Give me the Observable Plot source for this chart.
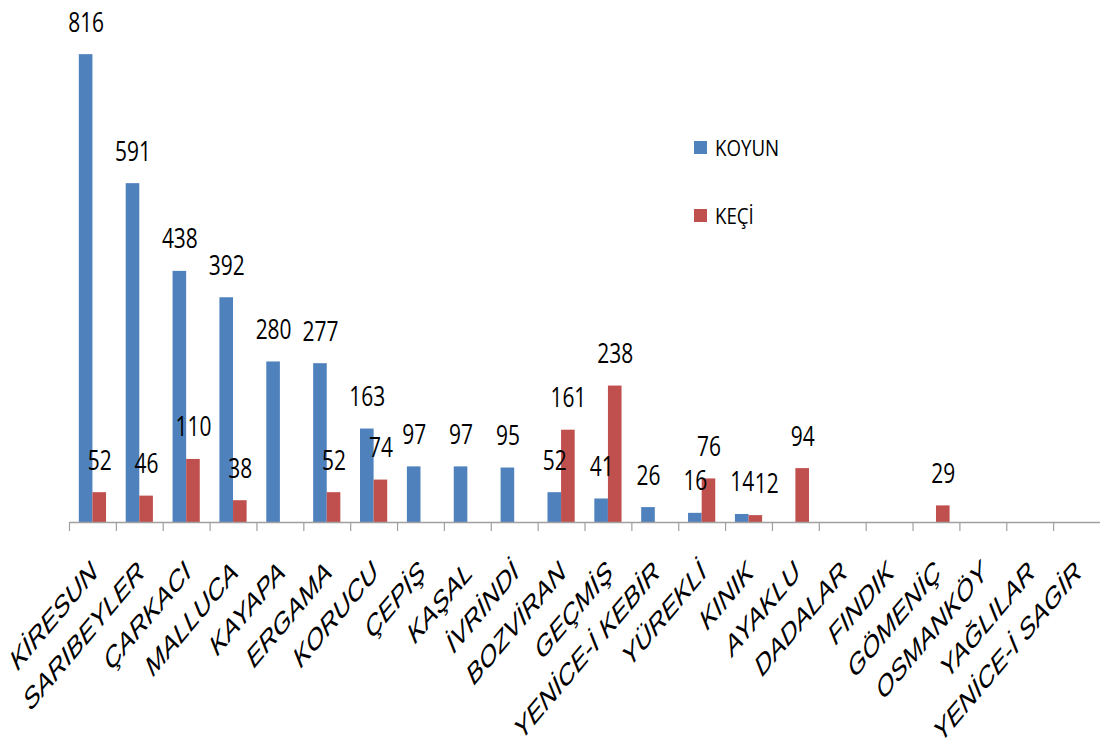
<!DOCTYPE html>
<html>
<head>
<meta charset="utf-8">
<script src="https://cdn.jsdelivr.net/npm/d3@7"></script>
<script src="https://cdn.jsdelivr.net/npm/@observablehq/plot@0.6"></script>
<style>
  body { margin: 0; background: #fff; overflow: hidden; }
  #chart { position: relative; width: 1100px; height: 740px; }
  .legend { position: absolute; left: 694px; height: 26px; line-height: 26px;
            font-family: "Open Sans", sans-serif; font-size: 22px; color: #000;
            display: flex; align-items: center; }
  .legend span { display: inline-block; transform: scaleX(0.85); transform-origin: left center; margin-left: 8px; }
  .sw { width: 13px; height: 13px; }
</style>
</head>
<body>
<div id="chart"></div>
<script>
const categories = ["KİRESUN","SARIBEYLER","ÇARKACI","MALLUCA","KAYAPA","ERGAMA","KORUCU","ÇEPİŞ","KAŞAL","İVRİNDİ","BOZVİRAN","GEÇMİŞ","YENİCE-İ KEBİR","YÜREKLİ","KINIK","AYAKLU","DADALAR","FINDIK","GÖMENİÇ","OSMANKÖY","YAĞLILAR","YENİCE-İ SAGİR"];
const koyun = [816,591,438,392,280,277,163,97,97,95,52,41,26,16,14,0,0,0,0,0,0,0];
const keci  = [52,46,110,38,0,52,74,0,0,0,161,238,0,76,12,94,0,0,29,0,0,0];
const seriesNames = ["KOYUN","KEÇİ"];
const seriesColors = ["#4F81BD","#C0504D"];

const rows = categories.map((c, i) => ({cat: c, koyun: koyun[i], keci: keci[i]}));

const W = 1100, H = 740, mL = 69, mR = 0, mT = 6, mB = 218;
const bw = (W - mL - mR) / categories.length;
const barW = 13.6;
const numFont = '"Open Sans", sans-serif';
const labFont = '"Liberation Sans", Arial, sans-serif';
// a label that Excel nudged sideways to clear its neighbour
const nudged = "KINIK";

const plot = Plot.plot({
  width: W, height: H,
  marginLeft: mL, marginRight: mR, marginTop: mT, marginBottom: mB,
  x: {type: "band", domain: categories, padding: 0, round: false, axis: null},
  y: {domain: [0, 900], axis: null},
  style: {background: "#fff", color: "#000"},
  marks: [
    Plot.barY(rows, {x: "cat", y: "koyun", fill: seriesColors[0], insetLeft: bw / 2 - barW, insetRight: bw / 2}),
    Plot.barY(rows, {x: "cat", y: "keci", fill: seriesColors[1], insetLeft: bw / 2, insetRight: bw / 2 - barW}),
    Plot.ruleY([0], {stroke: "#a0a0a0", strokeWidth: 1.5}),
    Plot.ruleX(categories, {x: d => d, y1: 0, y2: 0, insetBottom: -9, dx: -bw / 2, stroke: "#a0a0a0", strokeWidth: 1.2}),
    Plot.text(rows.filter(d => d.koyun > 0), {x: "cat", y: "koyun", text: d => String(d.koyun),
      dx: -barW / 2, dy: -23, lineAnchor: "bottom", fontSize: 26.5, fontFamily: numFont, fill: "#000"}),
    Plot.text(rows.filter(d => d.keci > 0 && d.cat !== nudged), {x: "cat", y: "keci", text: d => String(d.keci),
      dx: barW / 2, dy: -23, lineAnchor: "bottom", fontSize: 26.5, fontFamily: numFont, fill: "#000"}),
    Plot.text(rows.filter(d => d.keci > 0 && d.cat === nudged), {x: "cat", y: "keci", text: d => String(d.keci),
      dx: barW / 2 + 11, dy: -23, lineAnchor: "bottom", fontSize: 26.5, fontFamily: numFont, fill: "#000"}),
    Plot.text(categories, {x: d => d, y: 0, text: d => d, textAnchor: "end", lineAnchor: "bottom",
      dx: 5, dy: 53, fontSize: 24, fontFamily: labFont, fill: "#000"})
  ]
});

// Excel-style look: condensed value labels, slanted rotated category labels
function addTransform(el, extra) {
  let t = el.getAttribute("transform") || "";
  const x = el.getAttribute("x");
  if (x != null && !/em$/.test(x)) { t = `translate(${x},0) ` + t; el.removeAttribute("x"); }
  const y = el.getAttribute("y");
  if (y != null && !/em$/.test(y)) { t = `translate(0,${y}) ` + t; el.removeAttribute("y"); }
  el.setAttribute("transform", (t + " " + extra).trim());
}
const textGroups = d3.select(plot).selectAll('g[aria-label="text"]').nodes();
textGroups.forEach((g, gi) => {
  const isCat = gi === textGroups.length - 1;
  d3.select(g).selectAll("text").each(function () {
    addTransform(this, isCat ? "rotate(-50) skewX(-28) scale(1.19,1)" : "scale(0.79,1)");
  });
});

const chart = document.getElementById("chart");
chart.appendChild(plot);

const legendTops = [134, 202];
seriesNames.forEach((name, i) => {
  const row = document.createElement("div");
  row.className = "legend";
  row.style.top = legendTops[i] + "px";
  const sw = document.createElement("div");
  sw.className = "sw";
  sw.style.background = seriesColors[i];
  const t = document.createElement("span");
  t.textContent = name;
  row.appendChild(sw);
  row.appendChild(t);
  chart.appendChild(row);
});
</script>
</body>
</html>
